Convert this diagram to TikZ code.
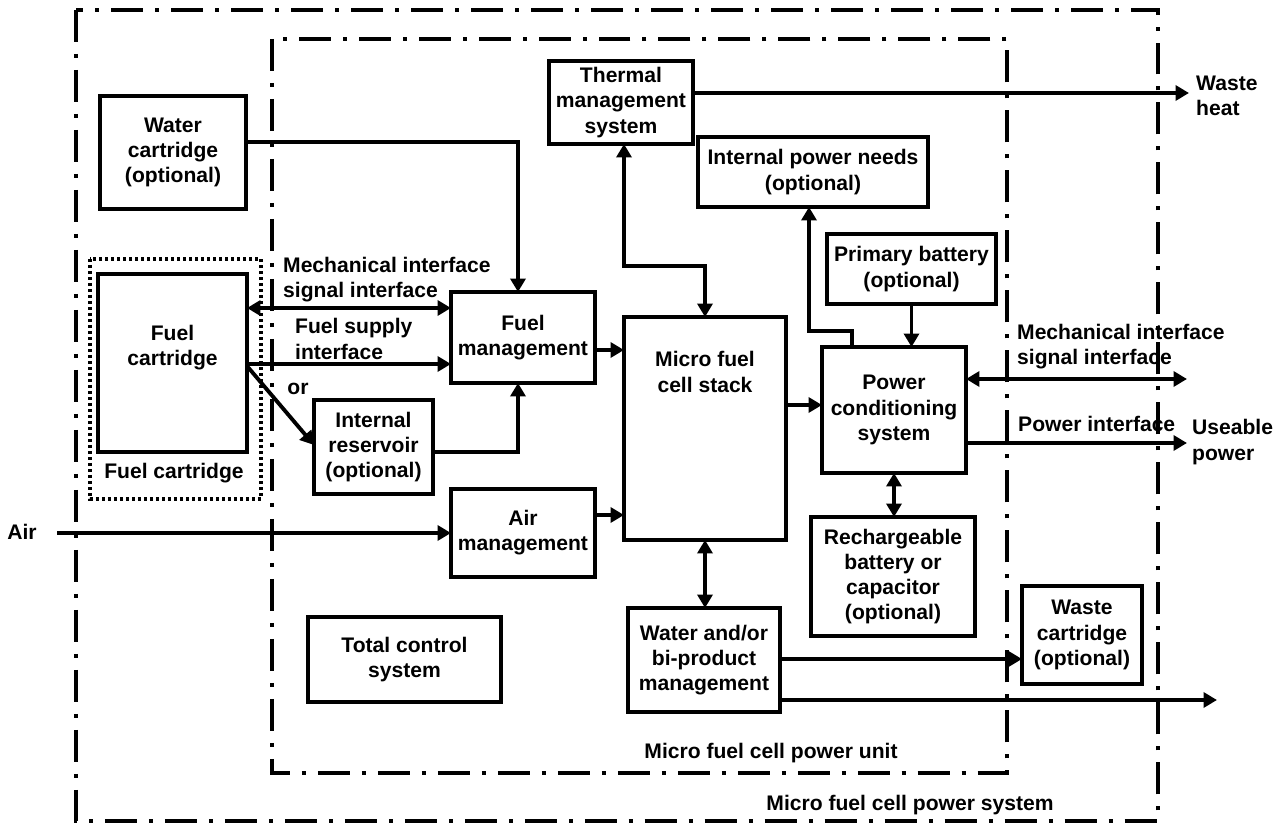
\documentclass[tikz,border=0pt]{standalone}
\usepackage{fontspec}
\setmainfont{Liberation Sans}
\usetikzlibrary{arrows.meta,positioning}

\begin{document}
\begin{tikzpicture}[x=0.02cm, y=-0.02cm, font=\fontsize{12}{14.3}\selectfont\bfseries]
        \tikzstyle{block} = [rectangle, draw, line width=2.2pt, align=center, inner sep=0pt, outer sep=0pt]
        \tikzstyle{frame} = [line width=2.1pt, dash pattern=on 0.64cm off 0.24cm on 0.08cm off 0.24cm]
        \tikzstyle{cartframe} = [line width=2.1pt, dash pattern=on 0.06cm off 0.06cm]
        \tikzstyle{arr} = [line width=2.2pt, -{Triangle[length=0.27cm,width=0.3cm]}]
        \tikzstyle{darr} = [line width=2.2pt, {Triangle[length=0.27cm,width=0.3cm]}-{Triangle[length=0.27cm,width=0.3cm]}]

        \useasboundingbox (0,0) rectangle (1279,824);

        % system and unit borders
        \draw[frame] (76,10) rectangle (1158,821);
        \draw[frame] (272,39) rectangle (1007,773);
        \draw[cartframe] (90,259) rectangle (261,499);

        \node[block, minimum width=2.92cm, minimum height=2.26cm] (water) at (173,152.5) {Water\\cartridge\\(optional)};
        \node[block, minimum width=2.98cm, minimum height=3.56cm] (fuelcart) at (172.5,363) {};
        \node[align=center] (fuelcarttxt) at (172.5,348) {Fuel\\cartridge};
        \node[block, minimum width=2.88cm, minimum height=1.66cm] (thermal) at (621,102.5) {Thermal\\management\\system};
        \node[block, minimum width=4.6cm, minimum height=1.4cm] (ipn) at (813,172) {Internal power needs\\(optional)};
        \node[block, minimum width=3.38cm, minimum height=1.4cm] (primary) at (911.5,269) {Primary battery\\(optional)};
        \node[block, minimum width=2.88cm, minimum height=1.82cm] (fuelmgmt) at (523,337.5) {Fuel\\management};
        \node[block, minimum width=3.24cm, minimum height=4.46cm] (stack) at (705,428.5) {};
        \node[align=center] (stacktxt) at (705,372) {Micro fuel\\cell stack};
        \node[block, minimum width=2.88cm, minimum height=2.52cm] (pcs) at (894,410) {Power\\conditioning\\system};
        \node[block, minimum width=2.38cm, minimum height=1.88cm] (reservoir) at (373.5,447) {Internal\\reservoir\\(optional)};
        \node[block, minimum width=2.88cm, minimum height=1.76cm] (airmgmt) at (523,533) {Air\\management};
        \node[block, minimum width=3.86cm, minimum height=1.7cm] (tcs) at (404.5,659.5) {Total control\\system};
        \node[block, minimum width=3.04cm, minimum height=2.08cm] (watermgmt) at (704,660) {Water and/or\\bi-product\\management};
        \node[block, minimum width=3.28cm, minimum height=2.38cm] (recharge) at (893,576.5) {Rechargeable\\battery or\\capacitor\\(optional)};
        \node[block, minimum width=2.4cm, minimum height=1.96cm] (wastecart) at (1082,635) {Waste\\cartridge\\(optional)};

        \coordinate (heatout) at (1189,93);
        \coordinate (sigout) at (1187,379);
        \coordinate (powout) at (1187,443);
        \coordinate (bypout) at (1217,700);
        \coordinate (airin) at (57,533);

        % labels
        \node[anchor=west, align=left] (fcsig) at (277,280) {Mechanical interface\\signal interface};
        \node[anchor=west, align=left] (fcsupply) at (289,339) {Fuel supply\\interface};
        \node (ortxt) at (298,389) {or};
        \node[anchor=west, align=left] (pcssig) at (1011,346.5) {Mechanical interface\\signal interface};
        \node[anchor=west] (powif) at (1012,424) {Power interface};
        \node[anchor=west, align=left] (usable) at (1186,442) {Useable\\power};
        \node[anchor=west, align=left] (heat) at (1190,96) {Waste\\heat};
        \node (airtxt) at (22,532) {Air};
        \node (fuelcartlbl) at (174,473) {Fuel cartridge};
        \node (unitlbl) at (771,753) {Micro fuel cell power unit};
        \node (systemlbl) at (910,805) {Micro fuel cell power system};

        \draw[arr] ([yshift=0.21cm]water.east) -| ([xshift=-0.1cm]fuelmgmt.north);
        \draw[darr] (fuelcart.east |- 0,308) -- (fuelmgmt.west |- 0,308);
        \draw[arr] (fuelcart.east |- 0,364) -- (fuelmgmt.west |- 0,364);
        \draw[arr] (fuelcart.east |- 0,366) -- (reservoir.west |- 0,445);
        \draw[arr] (reservoir.east |- 0,452) -| ([xshift=-0.1cm]fuelmgmt.south);
        \draw[arr] (fuelmgmt.east |- 0,350) -- (stack.west |- 0,350);
        \draw[darr] ([xshift=0.06cm]thermal.south) -- (624,266) -| (stack.north);
        \draw[arr] (thermal.east |- heatout) -- (heatout);
        \draw[arr] (pcs.north -| 852,0) -- (852,331) -| ([xshift=-0.08cm]ipn.south);
        \draw[arr] (primary.south) -- (primary.south |- pcs.north);
        \draw[arr] (stack.east |- 0,405) -- (pcs.west |- 0,405);
        \draw[darr] (pcs.east |- sigout) -- (sigout);
        \draw[arr] (pcs.east |- powout) -- (powout);
        \draw[darr] (pcs.south) -- (pcs.south |- recharge.north);
        \draw[arr] (airin) -- (airmgmt.west);
        \draw[arr] (airmgmt.east |- 0,515) -- (stack.west |- 0,515);
        \draw[darr] (stack.south) -- (stack.south |- watermgmt.north);
        \draw[arr] (watermgmt.east |- 0,659) -- (wastecart.west |- 0,659);
        \draw[arr] (watermgmt.east |- bypout) -- (bypout);
\end{tikzpicture}
\end{document}
